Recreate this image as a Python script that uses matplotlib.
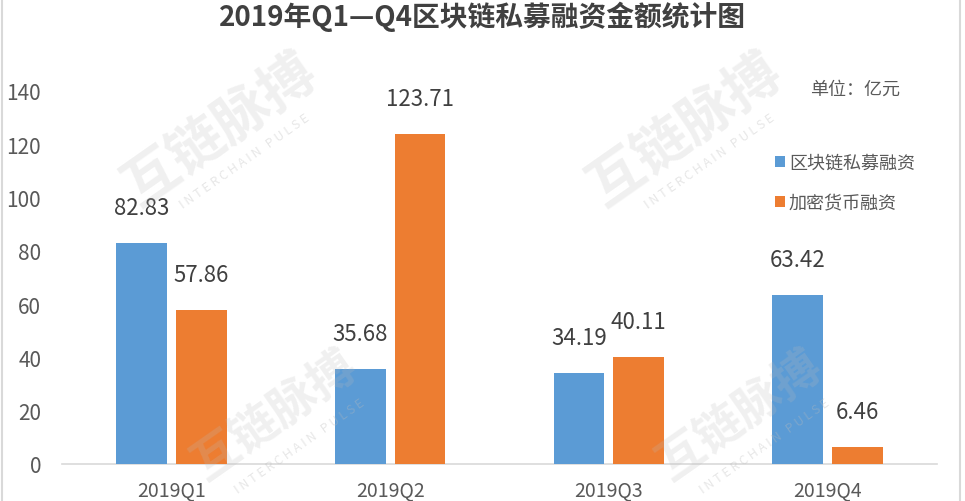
import matplotlib.pyplot as plt
from matplotlib.patches import Rectangle
import numpy as np

plt.rcParams["font.family"] = ["Noto Sans CJK SC", "DejaVu Sans"]

# --- Data ----------------------------------------------------------------
quarters = ["2019Q1", "2019Q2", "2019Q3", "2019Q4"]
blockchain = [82.83, 35.68, 34.19, 63.42]
crypto = [57.86, 123.71, 40.11, 6.46]
series_names = ["区块链私募融资", "加密货币融资"]

BLUE = "#5B9BD5"
ORANGE = "#ED7D31"
TEXT = "#595959"

# --- Figure --------------------------------------------------------------
fig = plt.figure(figsize=(9.65, 5.02), dpi=100)
ax = fig.add_axes([62 / 965, 37 / 502, 875 / 965, 373 / 502])

x = np.arange(len(quarters))
w = 0.232
off = 0.137
b1 = ax.bar(x - off, blockchain, w, color=BLUE, label=series_names[0], zorder=3)
b2 = ax.bar(x + off, crypto, w, color=ORANGE, label=series_names[1], zorder=3)

for bars in (b1, b2):
    for rect in bars:
        h = rect.get_height()
        ax.text(rect.get_x() + rect.get_width() / 2, h + 9, f"{h:.2f}",
                ha="center", va="bottom", fontsize=16, color="#404040", zorder=4)

ax.set_xlim(-0.5, 3.5)
ax.set_ylim(0, 140)
ax.set_yticks(range(0, 141, 20))
ax.set_xticks(x)
ax.set_xticklabels(quarters)
ax.tick_params(axis="y", length=0, labelsize=15, labelcolor=TEXT, pad=15)
ax.tick_params(axis="x", length=0, labelsize=14, labelcolor=TEXT, pad=11)
for side in ("top", "right", "left"):
    ax.spines[side].set_visible(False)
ax.spines["bottom"].set_color("#D9D9D9")
ax.spines["bottom"].set_linewidth(1.2)

# --- Title, unit, legend -------------------------------------------------
fig.text(0.5, 1 - 17 / 502, "2019年Q1—Q4区块链私募融资金额统计图", ha="center",
         va="center", fontsize=20, fontweight="bold", color="#404040")
fig.text(855 / 965, 1 - 90 / 502, "单位：亿元", ha="center", va="center",
         fontsize=13, color=TEXT)
leg = fig.legend(loc="upper left", bbox_to_anchor=(768 / 965, 1 - 148 / 502),
                 frameon=False, fontsize=13, handlelength=0.55, handleheight=0.55,
                 handletextpad=0.2, labelspacing=1.2, borderaxespad=0)
for t in leg.get_texts():
    t.set_color(TEXT)

# --- Watermarks ----------------------------------------------------------
marks = [(220, 130, 40), (685, 130, 40), (275, 415, 34), (740, 415, 34)]
for mx, my, fs in marks:
    fig.text(mx / 965, 1 - my / 502, "互链脉搏", rotation=35, ha="center",
             va="center", fontsize=fs, fontweight="bold", color="#BBBBBB", alpha=0.22)
    fig.text((mx + 25) / 965, 1 - (my + 32) / 502, "I N T E R C H A I N   P U L S E",
             rotation=35, ha="center", va="center", fontsize=9, color="#BBBBBB", alpha=0.35)

# --- Border --------------------------------------------------------------
fig.patches.append(Rectangle((2 / 965, -0.01), 958 / 965, 1.02, transform=fig.transFigure,
                             fill=False, edgecolor="#D9D9D9", linewidth=1.5))

fig.savefig("out.png", dpi=100)
plt.close(fig)
